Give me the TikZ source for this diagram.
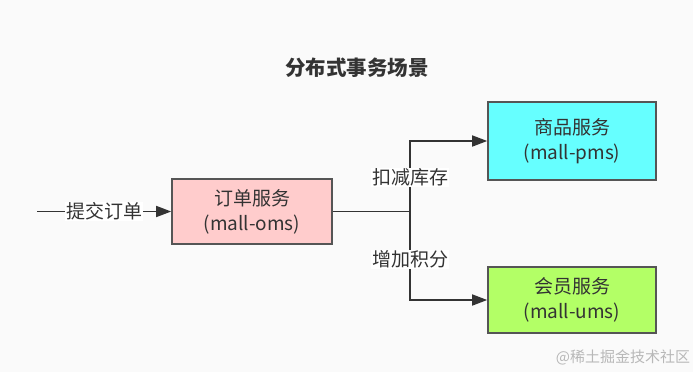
\documentclass[tikz,border=0pt]{standalone}
\usepackage{fontspec}
\setmainfont{Noto Sans CJK SC}
\usetikzlibrary{arrows.meta}
\definecolor{bgcol}{HTML}{FAFAFA}
\definecolor{linecol}{HTML}{333333}
\definecolor{boxline}{HTML}{555555}
\definecolor{omsfill}{HTML}{FFCCCC}
\definecolor{pmsfill}{HTML}{66FFFF}
\definecolor{umsfill}{HTML}{B3FF66}
\definecolor{markcol}{HTML}{B8B8B8}
\tikzset{
  svcbox/.style={draw=boxline, line width=1.6pt, align=center, text=linecol,
    inner sep=0pt, font=\fontsize{19}{25}\selectfont},
  flow/.style={draw=linecol, line width=1.6pt, -{Triangle[length=15pt,width=11pt]}},
  flowlabel/.style={fill=white, text=linecol, inner sep=1pt, font=\fontsize{19}{22}\selectfont},
}
\begin{document}
\begin{tikzpicture}[x=1pt,y=-1pt]
  % canvas
  \path[fill=bgcol, use as bounding box] (0,0) rectangle (693,372);
  \node[font=\bfseries\fontsize{20.5}{24}\selectfont, text=linecol] (title) at (357,68) {分布式事务场景};
  % services
  \node[svcbox, fill=omsfill, minimum width=160pt, minimum height=65pt] (oms) at (252,211.5) {订单服务\\(mall-oms)};
  \node[svcbox, fill=pmsfill, minimum width=168pt, minimum height=78pt] (pms) at (572,141) {商品服务\\(mall-pms)};
  \node[svcbox, fill=umsfill, minimum width=168pt, minimum height=66pt] (ums) at (572,300) {会员服务\\(mall-ums)};
  % connectors
  \coordinate (entry) at (37,211.5);
  \coordinate (split) at (410,211.5);
  \draw[flow] (entry) -- node[flowlabel] {提交订单} (oms.west);
  \draw[draw=linecol, line width=1.6pt] (oms.east) -- (split);
  \draw[flow] (split) |- node[flowlabel, pos=0.24] {扣减库存} (pms.west);
  \draw[flow] (split) |- node[flowlabel, pos=0.27] {增加积分} (ums.west);
  % watermark
  \node[text=markcol, font=\fontsize{15}{18}\selectfont] (mark) at (623,357) {@稀土掘金技术社区};
\end{tikzpicture}
\end{document}
